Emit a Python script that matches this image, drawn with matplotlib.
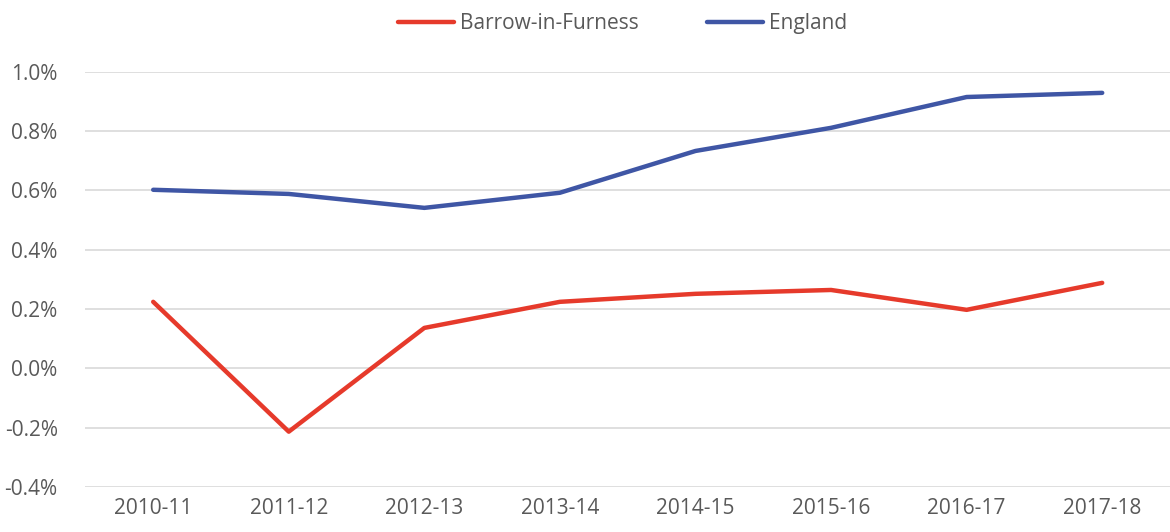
import matplotlib
matplotlib.use("Agg")
import matplotlib.pyplot as plt
from matplotlib.ticker import FuncFormatter

years = ["2010-11", "2011-12", "2012-13", "2013-14", "2014-15", "2015-16", "2016-17", "2017-18"]
barrow = [0.224, -0.214, 0.136, 0.224, 0.251, 0.264, 0.197, 0.288]
england = [0.602, 0.588, 0.541, 0.592, 0.733, 0.811, 0.915, 0.929]

plt.rcParams["font.family"] = ["Open Sans", "DejaVu Sans"]
text_col = "#595959"

fig = plt.figure(figsize=(11.7, 5.32), dpi=100)
ax = fig.add_axes([0.073, 0.085, 0.927, 0.78])

x = range(len(years))
ax.plot(x, barrow, color="#E63A2B", lw=3.2, solid_capstyle="round", label="Barrow-in-Furness")
ax.plot(x, england, color="#3F56A5", lw=3.2, solid_capstyle="round", label="England")

ax.set_ylim(-0.4, 1.0)
ax.set_yticks([-0.4, -0.2, 0.0, 0.2, 0.4, 0.6, 0.8, 1.0])
ax.yaxis.set_major_formatter(FuncFormatter(lambda v, p: f"{v:.1f}%"))
ax.set_xlim(-0.5, len(years) - 0.5)
ax.set_xticks(list(x))
ax.set_xticklabels(years)
ax.grid(axis="y", color="#D9D9D9", lw=1.2)
ax.set_axisbelow(True)
for s in ax.spines.values():
    s.set_visible(False)
ax.tick_params(length=0, labelsize=15, colors=text_col, pad=8)
ax.tick_params(axis="y", pad=20)

leg = fig.legend(loc="upper center", bbox_to_anchor=(0.532, 1.01), ncol=2, frameon=False,
                 fontsize=15, handlelength=2.7, columnspacing=3.3, handletextpad=0.25)
for t in leg.get_texts():
    t.set_color(text_col)

fig.savefig("out.png", dpi=100)
